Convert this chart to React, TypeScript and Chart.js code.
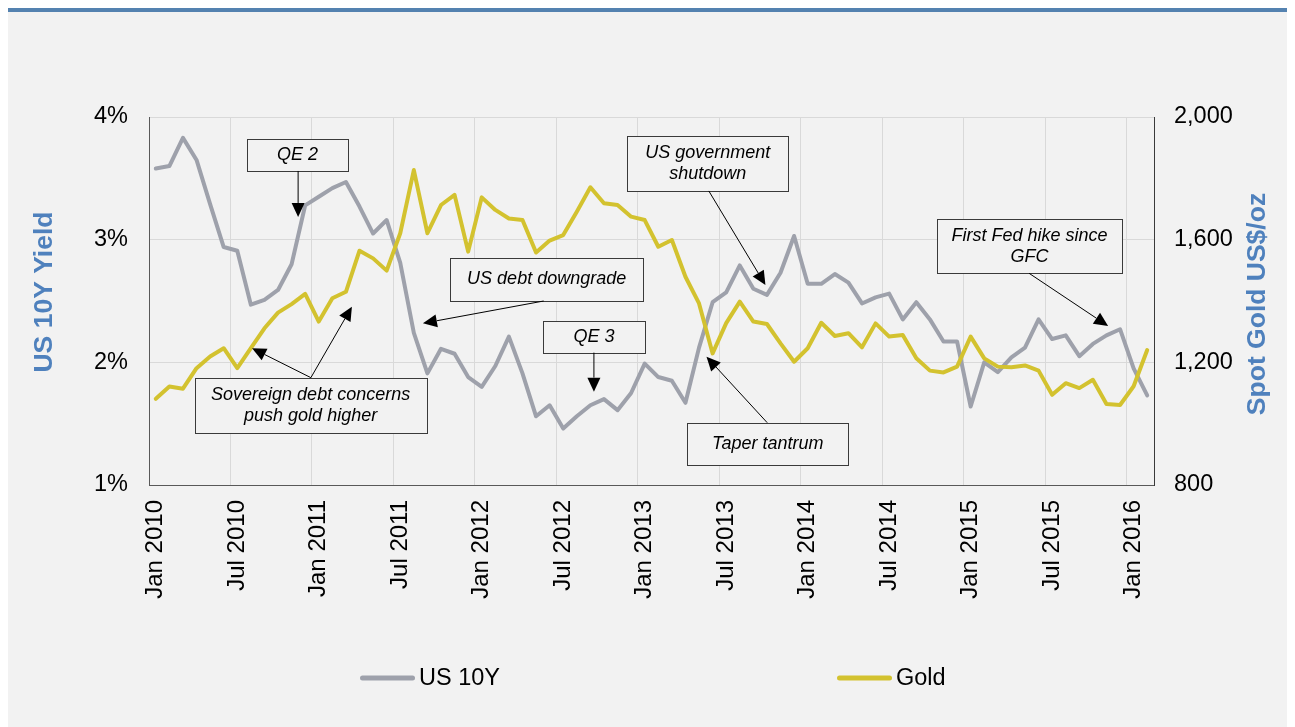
import React, { useEffect, useRef } from "react";
import { Chart, registerables } from "chart.js";

Chart.register(...registerables);

const FONT = "'Liberation Sans', Arial, sans-serif";

// x-axis tick labels (every 6 months, Jan 2010 .. Jan 2016)
const tickLabels = [
  "Jan 2010", "Jul 2010", "Jan 2011", "Jul 2011", "Jan 2012", "Jul 2012",
  "Jan 2013", "Jul 2013", "Jan 2014", "Jul 2014", "Jan 2015", "Jul 2015", "Jan 2016",
];

// monthly observations Jan 2010 .. Feb 2016 (74 months)
const us10y = [
  3.58, 3.60, 3.83, 3.65, 3.29, 2.94, 2.91, 2.47, 2.51, 2.59, 2.80, 3.28,
  3.35, 3.42, 3.47, 3.27, 3.05, 3.16, 2.81, 2.24, 1.91, 2.11, 2.07, 1.88,
  1.80, 1.97, 2.21, 1.91, 1.56, 1.65, 1.46, 1.56, 1.65, 1.70, 1.61, 1.75,
  1.99, 1.88, 1.85, 1.67, 2.12, 2.49, 2.57, 2.79, 2.60, 2.55, 2.73, 3.03,
  2.64, 2.64, 2.72, 2.65, 2.48, 2.53, 2.56, 2.35, 2.49, 2.35, 2.17, 2.17,
  1.64, 2.00, 1.92, 2.04, 2.12, 2.35, 2.19, 2.22, 2.05, 2.15, 2.22, 2.27,
  1.95, 1.73,
];

const gold = [
  1081, 1121, 1114, 1181, 1219, 1246, 1181, 1246, 1311, 1362, 1390, 1423,
  1333, 1409, 1430, 1564, 1539, 1499, 1621, 1827, 1621, 1713, 1746, 1561,
  1738, 1697, 1669, 1664, 1558, 1597, 1615, 1691, 1771, 1719, 1713, 1675,
  1664, 1577, 1599, 1479, 1392, 1229, 1328, 1398, 1333, 1325, 1262, 1202,
  1246, 1329, 1286, 1295, 1249, 1327, 1284, 1289, 1213, 1173, 1167, 1186,
  1284, 1213, 1186, 1184, 1190, 1173, 1094, 1132, 1116, 1143, 1064, 1061,
  1122, 1240,
];

const yieldTicks = [1, 2, 3, 4];
const goldTicks = [800, 1200, 1600, 2000];

// annotation boxes, positioned in data coordinates (month index, yield %)
type Note = {
  lines: string[];
  box: [number, number];
  w: number;
  h: number;
  arrows: { from: [number, number]; to: [number, number] }[];
};
const notes: Note[] = [
  { lines: ["QE 2"], box: [10.94, 3.69], w: 101, h: 32,
    arrows: [{ from: [10.98, 3.56], to: [10.98, 3.185] }] },
  { lines: ["Sovereign debt concerns", "push gold higher"], box: [11.9, 1.65], w: 232, h: 55,
    arrows: [
      { from: [11.92, 1.875], to: [7.59, 2.115] },
      { from: [11.92, 1.875], to: [14.94, 2.454] },
    ] },
  { lines: ["US debt downgrade"], box: [29.28, 2.677], w: 193, h: 43,
    arrows: [{ from: [29.06, 2.50], to: [20.17, 2.318] }] },
  { lines: ["QE 3"], box: [32.76, 2.208], w: 102, h: 32,
    arrows: [{ from: [32.76, 2.079], to: [32.76, 1.761] }] },
  { lines: ["US government", "shutdown"], box: [41.14, 3.623], w: 161, h: 55,
    arrows: [{ from: [41.22, 3.397], to: [45.39, 2.63] }] },
  { lines: ["Taper tantrum"], box: [45.56, 1.338], w: 161, h: 42,
    arrows: [{ from: [45.52, 1.508], to: [41.05, 2.046] }] },
  { lines: ["First Fed hike since", "GFC"], box: [64.83, 2.947], w: 185, h: 54,
    arrows: [{ from: [64.80, 2.726], to: [70.62, 2.296] }] },
];

const BG = "#f2f2f2";
const GRAY = "#9ea1ab";
const GOLD = "#d3c22f";
const BLUE = "#4f81bd";

const decorPlugin = {
  id: "decor",
  beforeDraw(chart: any) {
    const { ctx, width, height } = chart;
    ctx.save();
    ctx.fillStyle = BG;
    ctx.fillRect(0, 0, width, height);
    ctx.fillStyle = "#5482b0";
    ctx.fillRect(0, 0, width, 5);
    ctx.restore();
  },
  afterDatasetsDraw(chart: any) {
    const { ctx } = chart;
    const sx = chart.scales.x;
    const sy = chart.scales.y;
    ctx.save();
    for (const n of notes) {
      const cx = sx.getPixelForValue(n.box[0]);
      const cy = sy.getPixelForValue(n.box[1]);
      const l = Math.round(cx - n.w / 2) + 0.5;
      const t = Math.round(cy - n.h / 2) + 0.5;
      ctx.fillStyle = BG;
      ctx.fillRect(l, t, n.w, n.h);
      ctx.strokeStyle = "#3a3a3a";
      ctx.lineWidth = 1;
      ctx.strokeRect(l, t, n.w, n.h);
      ctx.fillStyle = "#000";
      ctx.font = `italic 18px ${FONT}`;
      ctx.textAlign = "center";
      ctx.textBaseline = "middle";
      const lh = 21;
      n.lines.forEach((s, k) => {
        ctx.fillText(s, cx, cy + (k - (n.lines.length - 1) / 2) * lh);
      });
      for (const a of n.arrows) {
        const x1 = sx.getPixelForValue(a.from[0]);
        const y1 = sy.getPixelForValue(a.from[1]);
        const x2 = sx.getPixelForValue(a.to[0]);
        const y2 = sy.getPixelForValue(a.to[1]);
        const ang = Math.atan2(y2 - y1, x2 - x1);
        const len = 14;
        const hw = 6.5;
        const bx = x2 - len * Math.cos(ang);
        const by = y2 - len * Math.sin(ang);
        ctx.strokeStyle = "#000";
        ctx.lineWidth = 1;
        ctx.beginPath();
        ctx.moveTo(x1, y1);
        ctx.lineTo(bx, by);
        ctx.stroke();
        ctx.fillStyle = "#000";
        ctx.beginPath();
        ctx.moveTo(x2, y2);
        ctx.lineTo(bx + hw * Math.sin(ang), by - hw * Math.cos(ang));
        ctx.lineTo(bx - hw * Math.sin(ang), by + hw * Math.cos(ang));
        ctx.closePath();
        ctx.fill();
      }
    }
    ctx.restore();
  },
  afterDraw(chart: any) {
    const { ctx, chartArea } = chart;
    ctx.save();
    // axis titles
    ctx.fillStyle = BLUE;
    ctx.font = `bold 26.5px ${FONT}`;
    ctx.textAlign = "center";
    ctx.textBaseline = "middle";
    ctx.save();
    ctx.translate(chartArea.left - 104, chartArea.top + 175);
    ctx.rotate(-Math.PI / 2);
    ctx.fillText("US 10Y Yield", 0, 0);
    ctx.restore();
    ctx.save();
    ctx.translate(chartArea.right + 103.5, chartArea.top + 187);
    ctx.rotate(-Math.PI / 2);
    ctx.fillText("Spot Gold US$/oz", 0, 0);
    ctx.restore();
    // legend
    const items = [
      { label: "US 10Y", color: GRAY, x0: 355.5, x1: 405.5, tx: 412 },
      { label: "Gold", color: GOLD, x0: 832.5, x1: 882.5, tx: 889 },
    ];
    const ly = 671;
    ctx.font = `23.5px ${FONT}`;
    ctx.textAlign = "left";
    ctx.textBaseline = "middle";
    for (const it of items) {
      ctx.strokeStyle = it.color;
      ctx.lineWidth = 5;
      ctx.lineCap = "round";
      ctx.beginPath();
      ctx.moveTo(it.x0, ly);
      ctx.lineTo(it.x1, ly);
      ctx.stroke();
      ctx.fillStyle = "#000";
      ctx.fillText(it.label, it.tx, ly + 1);
    }
    ctx.restore();
  },
};

export default function App() {
  const ref = useRef<HTMLCanvasElement | null>(null);

  useEffect(() => {
    if (!ref.current) return;
    const chart = new Chart(ref.current, {
      type: "line",
      data: {
        datasets: [
          {
            label: "US 10Y",
            data: us10y.map((v, i) => ({ x: i + 0.5, y: v })),
            borderColor: GRAY,
            borderWidth: 4,
            pointRadius: 0,
            tension: 0,
            borderJoinStyle: "round",
            borderCapStyle: "round",
            yAxisID: "y",
            order: 2,
          },
          {
            label: "Gold",
            data: gold.map((v, i) => ({ x: i + 0.5, y: v })),
            borderColor: GOLD,
            borderWidth: 4,
            pointRadius: 0,
            tension: 0,
            borderJoinStyle: "round",
            borderCapStyle: "round",
            yAxisID: "y1",
            order: 1,
          },
        ],
      },
      options: {
        responsive: false,
        animation: false,
        devicePixelRatio: 1,
        layout: { padding: { top: 110, left: 0, right: 0, bottom: 0 } },
        plugins: { legend: { display: false }, tooltip: { enabled: false } },
        scales: {
          x: {
            type: "linear",
            min: 0,
            max: 74,
            afterFit: (s: any) => { s.height = 242; },
            afterBuildTicks: (s: any) => {
              s.ticks = tickLabels.map((_, k) => ({ value: k * 6 }));
            },
            ticks: {
              autoSkip: false,
              includeBounds: false,
              maxRotation: 90,
              minRotation: 90,
              padding: 15,
              labelOffset: 6.8,
              color: "#000",
              font: { family: FONT, size: 24 },
              callback: (_v: any, i: number) => tickLabels[i],
            },
            grid: { color: "#d9d9d9", lineWidth: 1, drawTicks: false },
            border: { color: "#595959", width: 1 },
          },
          y: {
            position: "left",
            min: 1,
            max: 4,
            afterFit: (s: any) => { s.width = 142; },
            afterBuildTicks: (s: any) => {
              s.ticks = yieldTicks.map((v) => ({ value: v }));
            },
            ticks: {
              padding: 21,
              color: "#000",
              font: { family: FONT, size: 23.5 },
              callback: (v: any) => `${v}%`,
            },
            grid: { color: "#d9d9d9", lineWidth: 1, drawTicks: false },
            border: { color: "#595959", width: 1 },
          },
          y1: {
            position: "right",
            min: 800,
            max: 2000,
            afterFit: (s: any) => { s.width = 134; },
            afterBuildTicks: (s: any) => {
              s.ticks = goldTicks.map((v) => ({ value: v }));
            },
            ticks: {
              padding: 20,
              color: "#000",
              font: { family: FONT, size: 23.5 },
              callback: (v: any) => Number(v).toLocaleString("en-US"),
            },
            grid: { drawOnChartArea: false, drawTicks: false },
            border: { color: "#3a3a3a", width: 1 },
          },
        },
      },
      plugins: [decorPlugin],
    } as any);
    return () => chart.destroy();
  }, []);

  return (
    <div style={{ marginLeft: -1, marginTop: -1, width: 1281, height: 720 }}>
      <canvas ref={ref} width={1281} height={720} style={{ display: "block" }} />
    </div>
  );
}
